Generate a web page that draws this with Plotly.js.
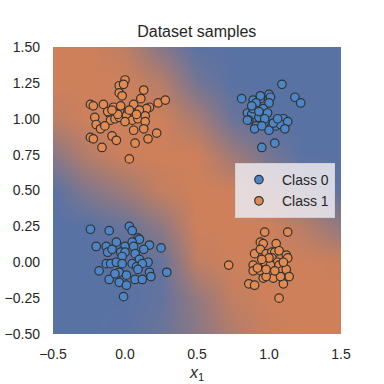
<!DOCTYPE html>
<html>
<head>
<meta charset="utf-8">
<script src="https://cdn.plot.ly/plotly-3.0.1.min.js"></script>
<style>html,body{margin:0;padding:0;background:#fff}#chart{width:384px;height:384px}</style>
</head>
<body>
<div id="chart"></div>
<script>
// Class 0 (blue): cluster near (0,0) then cluster near (1,1)
const class0_x = [-0.24,-0.11,0.03,0.05,0.09,0.10,-0.20,-0.13,-0.06,0.00,0.05,0.06,0.17,0.25,0.13,-0.12,-0.09,-0.03,0.00,0.07,0.10,0.16,-0.02,-0.13,-0.10,-0.06,-0.02,0.05,0.08,0.12,0.09,-0.18,-0.04,0.01,0.07,0.12,0.17,0.18,0.29,-0.11,-0.04,0.01,-0.01,-0.07,
  1.09,0.81,1.18,1.22,0.89,0.94,1.00,1.01,0.94,0.91,1.00,0.85,0.88,0.96,0.96,0.99,0.86,0.85,0.94,0.97,0.91,0.90,1.00,1.02,1.00,1.05,1.10,1.08,1.13,1.11,1.04,0.95,0.89,0.93,0.93,0.97,1.03,0.88,1.06,0.95];
const class0_y = [0.23,0.22,0.25,0.22,0.17,0.16,0.11,0.11,0.14,0.11,0.14,0.11,0.12,0.10,0.09,0.07,0.09,0.07,0.07,0.06,0.02,0.00,0.04,-0.01,-0.01,0.00,-0.01,-0.01,-0.03,-0.01,-0.05,-0.06,-0.07,-0.09,-0.12,-0.12,-0.07,-0.10,-0.07,-0.12,-0.14,-0.16,-0.24,-0.08,
  1.24,1.14,1.15,1.11,1.13,1.14,1.17,1.15,1.16,1.11,1.11,1.04,1.03,1.07,1.03,1.04,0.99,0.99,0.99,0.98,0.95,0.93,0.96,0.95,0.92,0.95,1.00,0.96,0.98,0.93,0.83,0.80,1.07,1.01,1.05,1.00,0.97,1.09,1.00,0.95];
// Class 1 (orange): cluster near (0,1) then cluster near (1,0)
const class1_x = [0.00,-0.04,-0.01,-0.04,-0.02,0.13,-0.24,-0.22,-0.15,-0.08,-0.03,0.06,0.11,0.23,0.28,0.17,0.15,0.10,-0.11,-0.07,0.02,-0.21,-0.10,-0.07,-0.04,0.01,0.05,0.09,0.14,0.14,-0.20,-0.17,-0.14,0.06,0.13,0.22,0.16,-0.24,-0.22,-0.09,-0.06,0.07,-0.16,0.03,-0.05,0.03,-0.12,0.08,0.00,-0.09,
  0.97,1.13,0.94,0.96,1.05,0.90,0.94,0.98,1.02,1.04,1.07,1.12,1.13,0.72,0.89,0.97,1.02,1.06,0.89,0.94,1.01,1.07,1.09,1.12,0.92,1.14,0.96,1.03,1.10,0.86,0.90,1.07,0.98,1.08,1.00,0.95,1.04,0.98,1.10];
const class1_y = [1.27,1.23,1.24,1.18,1.16,1.20,1.10,1.09,1.10,1.08,1.09,1.10,1.14,1.11,1.13,1.08,1.07,1.06,1.04,1.04,1.05,1.01,0.99,1.00,1.01,1.02,0.99,1.00,1.02,0.98,0.96,0.93,0.95,0.92,0.93,0.90,0.86,0.87,0.86,0.88,0.85,0.83,0.80,0.72,1.03,1.06,1.05,1.03,0.98,1.06,
  0.21,0.21,0.14,0.13,0.13,0.06,0.09,0.06,0.07,0.07,0.08,0.05,0.03,-0.02,-0.02,0.00,0.03,0.00,-0.06,-0.06,-0.02,-0.02,-0.06,-0.05,-0.04,-0.10,-0.11,-0.11,-0.15,-0.15,-0.16,-0.25,-0.10,-0.10,0.03,0.02,-0.06,-0.05,0.00];

// Background: model output (probability of class 1) read on a coarse grid
const grid_x = [-0.5,-0.25,0,0.25,0.5,0.75,1,1.25,1.5];
const grid_y = [-0.5,-0.25,0,0.25,0.5,0.75,1,1.25,1.5];
const grid_p = [
  [0,0,0.02,0.15,0.4,0.75,0.95,1,1],
  [0,0,0,0.08,0.5,0.9,1,1,1],
  [0,0,0,0.1,0.88,1,1,1,0.95],
  [0,0,0.14,0.46,1,1,1,0.8,0.48],
  [0,0.36,0.59,0.91,1,1,0.68,0.36,0.03],
  [0.41,0.8,1,1,1,0.59,0.23,0,0],
  [0.86,1,1,1,0.68,0.14,0,0,0],
  [1,1,1,0.8,0.23,0,0,0,0],
  [1,1,0.86,0.38,0.02,0,0,0,0]
];
const class_names = ['Class 0','Class 1'];

const font = "Liberation Sans, Arial, sans-serif";
const traces = [
  {type:'heatmap', x:grid_x, y:grid_y, z:grid_p, zsmooth:'best', zmin:0, zmax:1,
   colorscale:[[0,'rgb(89,114,164)'],[1,'rgb(206,128,90)']], showscale:false, hoverinfo:'skip', showlegend:false},
  {type:'scatter', mode:'markers', name:class_names[0], x:class0_x, y:class0_y,
   marker:{size:8.5, color:'#4c86c9', line:{color:'#333333', width:1.2}}},
  {type:'scatter', mode:'markers', name:class_names[1], x:class1_x, y:class1_y,
   marker:{size:8.5, color:'#e38a50', line:{color:'#333333', width:1.2}}}
];
const layout = {
  width:384, height:384,
  margin:{l:53, r:43, t:47, b:50},
  paper_bgcolor:'#ffffff', plot_bgcolor:'#ffffff',
  font:{family:font, size:14, color:'#262626'},
  title:{text:'Dataset samples', x:0.5125, xanchor:'center', y:0.917, yanchor:'middle', font:{family:font, size:16, color:'#262626'}},
  xaxis:{range:[-0.5,1.5], tickvals:[-0.5,0,0.5,1,1.5], tickformat:'.1f', showgrid:false, zeroline:false, showline:false,
         ticks:'', ticklabelstandoff:10, tickfont:{size:14}, title:{text:'<i>x</i><sub>1</sub>', font:{size:16}, standoff:5}},
  yaxis:{range:[-0.5,1.5], tickvals:[-0.5,-0.25,0,0.25,0.5,0.75,1,1.25,1.5], tickformat:'.2f', showgrid:false, zeroline:false, showline:false,
         ticks:'', ticklabelstandoff:12, tickfont:{size:14}},
  legend:{x:0.979, xanchor:'right', y:0.5, yanchor:'middle', bgcolor:'rgba(236,234,240,0.85)', bordercolor:'#d0d0d0', borderwidth:1,
          font:{size:14, color:'#262626'}, itemsizing:'trace', itemwidth:36},
  showlegend:true
};
Plotly.newPlot('chart', traces, layout, {staticPlot:true, displayModeBar:false});
</script>
</body>
</html>
